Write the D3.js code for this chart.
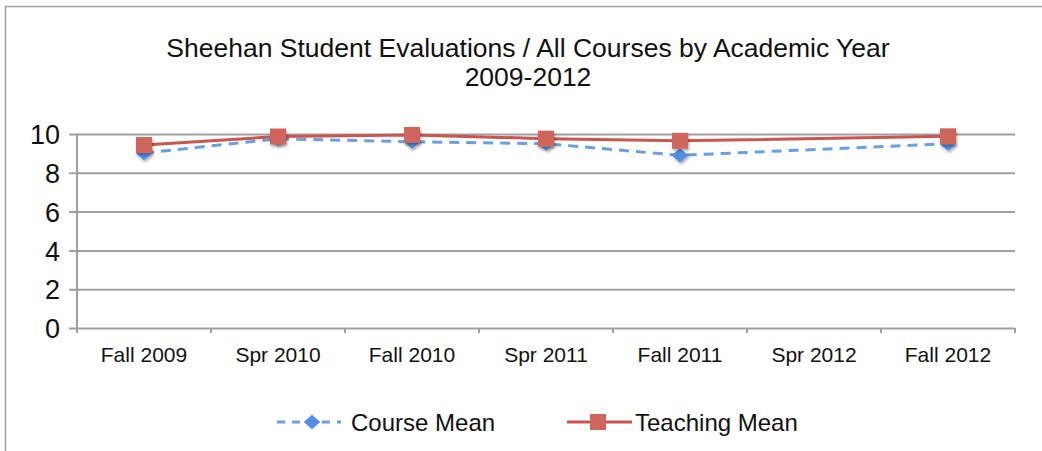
<!DOCTYPE html>
<html>
<head>
<meta charset="utf-8">
<script src="https://cdn.jsdelivr.net/npm/d3@7"></script>
<style>
    body { margin: 0; background: #fff; }
    .vis-chart { width: 1042px; height: 451px; }
    text { font-family: "Liberation Sans", Arial, sans-serif; fill: #111; }
</style>
</head>
<body>
<div class="vis-chart"></div>
<script>
// data (Spr 2012 has no value, the lines skip over it)
const terms = ['Fall 2009', 'Spr 2010', 'Fall 2010', 'Spr 2011', 'Fall 2011', 'Spr 2012', 'Fall 2012']
const courseMean = [9.02, 9.75, 9.6, 9.5, 8.9, null, 9.5]
const teachingMean = [9.43, 9.87, 9.95, 9.76, 9.65, null, 9.88]
const yTicks = [0, 2, 4, 6, 8, 10]
const titleLines = ['Sheehan Student Evaluations / All Courses by Academic Year', '2009-2012']
const seriesNames = ['Course Mean', 'Teaching Mean']

const dimensions = {
    width: 1042,
    height: 451,
    margin: {
        top: 134,
        right: 27,
        bottom: 123,
        left: 77
    }
}

const blue = '#6a9fe0'
const blueMarker = '#4f8ee6'
const red = '#c9564f'
const redMarker = '#d0655b'
const gridColor = '#a0a0a0'

let visChart = d3.select('.vis-chart').append('svg')
    .attr('width', dimensions.width)
    .attr('height', dimensions.height)
    .style('background-color', '#fff')

let xScale, yScale

const cx = i => xScale(terms[i]) + xScale.bandwidth() / 2
const diamond = d3.symbol().type(d3.symbolDiamond2).size(130)
const square = d3.symbol().type(d3.symbolSquare).size(256)

makeVisualization()

function makeVisualization() {
    xScale = d3.scaleBand()
        .domain(terms)
        .range([dimensions.margin.left, dimensions.width - dimensions.margin.right])
        .padding(0)
    yScale = d3.scaleLinear()
        .domain([0, 10])
        .range([dimensions.height - dimensions.margin.bottom, dimensions.margin.top])

    drawFrame()
    drawTitle()
    drawAxis()
    drawPlot()
    drawLegend()
}

/* chart border, only top and left edges are visible in the picture */
function drawFrame() {
    visChart.append('rect')
        .attr('x', 5.5)
        .attr('y', 6.5)
        .attr('width', 1100)
        .attr('height', 500)
        .attr('fill', 'none')
        .attr('stroke', gridColor)
        .attr('stroke-width', 1.5)

    const defs = visChart.append('defs')
    defs.append('filter')
        .attr('id', 'shadow')
        .attr('x', '-50%').attr('y', '-50%')
        .attr('width', '200%').attr('height', '200%')
        .append('feDropShadow')
        .attr('dx', 1).attr('dy', 2)
        .attr('stdDeviation', 1.5)
        .attr('flood-color', '#000')
        .attr('flood-opacity', 0.35)
}

function drawTitle() {
    visChart.append('text')
        .attr('text-anchor', 'middle')
        .attr('x', 528)
        .attr('y', 57)
        .style('font-size', '26.5px')
        .text(titleLines[0])
    visChart.append('text')
        .attr('text-anchor', 'middle')
        .attr('x', 528)
        .attr('y', 86)
        .style('font-size', '26.5px')
        .text(titleLines[1])
}

/******** axes and gridlines ******/
function drawAxis() {
    const x0 = dimensions.margin.left
    const x1 = dimensions.width - dimensions.margin.right
    const len = x1 - x0 + 8

    const yAxis = d3.axisLeft(yScale)
        .tickValues(yTicks)
        .tickSize(len)
        .tickSizeOuter(0)

    const gy = visChart.append('g')
        .attr('transform', 'translate(' + (x1) + ',0)')
    gy.call(yAxis)
    gy.select('.domain').remove()
    gy.selectAll('.tick line')
        .attr('stroke', gridColor)
        .attr('stroke-width', 2)
    gy.selectAll('.tick text')
        .attr('x', -len - 9)
        .attr('dy', '0.36em')
        .style('font-size', '27px')
        .style('font-family', '"Liberation Sans", Arial, sans-serif')
        .attr('fill', '#111')

    // vertical axis line
    visChart.append('line')
        .attr('x1', x0).attr('x2', x0)
        .attr('y1', yScale(10)).attr('y2', yScale(0) + 5)
        .attr('stroke', gridColor)
        .attr('stroke-width', 2)

    // category boundary ticks under the baseline
    const bounds = terms.map(t => xScale(t)).concat([x1])
    visChart.selectAll('.xtick')
        .data(bounds.slice(1))
        .enter().append('line')
        .attr('class', 'xtick')
        .attr('x1', d => d).attr('x2', d => d)
        .attr('y1', yScale(0)).attr('y2', yScale(0) + 5)
        .attr('stroke', gridColor)
        .attr('stroke-width', 2)

    visChart.selectAll('.xlabel')
        .data(terms)
        .enter().append('text')
        .attr('class', 'xlabel')
        .attr('text-anchor', 'middle')
        .attr('x', (d, i) => cx(i))
        .attr('y', yScale(0) + 34)
        .style('font-size', '21px')
        .text(d => d)
}

/********* lines and markers ************/
function drawPlot() {
    const line = d3.line()
        .x(d => d.x)
        .y(d => yScale(d.v))

    const coursePts = courseMean.map((v, i) => ({ v: v, x: cx(i) })).filter(d => d.v !== null)
    const teachPts = teachingMean.map((v, i) => ({ v: v, x: cx(i) })).filter(d => d.v !== null)

    visChart.append('path')
        .datum(coursePts)
        .attr('d', line)
        .attr('fill', 'none')
        .attr('stroke', blue)
        .attr('stroke-width', 3)
        .attr('stroke-dasharray', '10 7')

    visChart.selectAll('.course-pt')
        .data(coursePts)
        .enter().append('path')
        .attr('class', 'course-pt')
        .attr('d', diamond)
        .attr('transform', d => 'translate(' + d.x + ',' + yScale(d.v) + ') scale(1.15,1)')
        .attr('fill', blueMarker)
        .attr('filter', 'url(#shadow)')

    visChart.append('path')
        .datum(teachPts)
        .attr('d', line)
        .attr('fill', 'none')
        .attr('stroke', red)
        .attr('stroke-width', 3)

    visChart.selectAll('.teach-pt')
        .data(teachPts)
        .enter().append('path')
        .attr('class', 'teach-pt')
        .attr('d', square)
        .attr('transform', d => 'translate(' + d.x + ',' + yScale(d.v) + ')')
        .attr('fill', redMarker)
        .attr('filter', 'url(#shadow)')
}

function drawLegend() {
    const ly = 422
    const lg = visChart.append('g')

    lg.append('line')
        .attr('x1', 277).attr('x2', 341)
        .attr('y1', ly).attr('y2', ly)
        .attr('stroke', blue)
        .attr('stroke-width', 3)
        .attr('stroke-dasharray', '8 7')
    lg.append('path')
        .attr('d', diamond)
        .attr('transform', 'translate(312,' + ly + ') scale(1.15,1)')
        .attr('fill', blueMarker)
    lg.append('text')
        .attr('x', 351)
        .attr('y', ly + 8.5)
        .style('font-size', '24px')
        .text(seriesNames[0])

    lg.append('line')
        .attr('x1', 567).attr('x2', 632)
        .attr('y1', ly).attr('y2', ly)
        .attr('stroke', red)
        .attr('stroke-width', 3)
    lg.append('path')
        .attr('d', square)
        .attr('transform', 'translate(598,' + ly + ')')
        .attr('fill', redMarker)
    lg.append('text')
        .attr('x', 635)
        .attr('y', ly + 8.5)
        .style('font-size', '24px')
        .text(seriesNames[1])
}
</script>
</body>
</html>
